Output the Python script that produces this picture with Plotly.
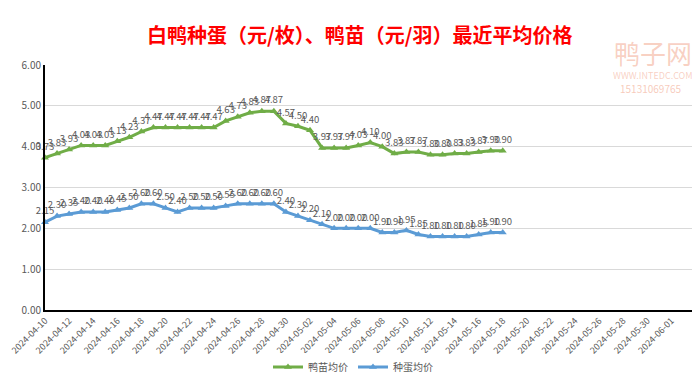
import plotly.graph_objects as go
import pandas as pd

dates = pd.date_range("2024-04-10", "2024-05-18", freq="D").strftime("%Y-%m-%d").tolist()
duckling = [3.73, 3.83, 3.93, 4.03, 4.03, 4.03, 4.13, 4.23, 4.37, 4.47,
            4.47, 4.47, 4.47, 4.47, 4.47, 4.63, 4.73, 4.83, 4.87, 4.87,
            4.57, 4.50, 4.40, 3.97, 3.97, 3.97, 4.03, 4.10, 4.00, 3.83,
            3.87, 3.87, 3.80, 3.80, 3.83, 3.83, 3.87, 3.90, 3.90]
eggs = [2.15, 2.30, 2.35, 2.40, 2.40, 2.40, 2.45, 2.50, 2.60, 2.60,
        2.50, 2.40, 2.50, 2.50, 2.50, 2.55, 2.60, 2.60, 2.60, 2.60,
        2.40, 2.30, 2.20, 2.10, 2.00, 2.00, 2.00, 2.00, 1.90, 1.90,
        1.95, 1.85, 1.80, 1.80, 1.80, 1.80, 1.85, 1.90, 1.90]
tick_dates = pd.date_range("2024-04-10", "2024-06-01", freq="2D").strftime("%Y-%m-%d").tolist()
names = ["鸭苗均价", "种蛋均价"]
colors = ["#70AD47", "#5B9BD5"]

font = "Noto Sans CJK SC, Noto Sans, sans-serif"
fig = go.Figure()
for vals, name, col in [(duckling, names[0], colors[0]), (eggs, names[1], colors[1])]:
    fig.add_trace(go.Scatter(
        x=dates, y=vals, name=name, mode="lines+markers+text",
        line=dict(color=col, width=3),
        marker=dict(symbol="triangle-up", size=7, color=col),
        text=[f"{v:.2f}" for v in vals], textposition="top center",
        textfont=dict(size=9.5, color="#595959"), cliponaxis=False,
    ))

L, T, W, H = 37, 57, 650, 245
def px(x, y):
    return (x - L) / W, 1 - (y - T) / H

annos = [
    ("<b>白鸭种蛋（元/枚）、鸭苗（元/羽）最近平均价格</b>", 351, 26, 20, "#FF0000"),
    ("鸭子网", 645, 44, 26, "rgba(240,150,120,0.45)"),
    ("WWW.INTEDC.COM", 645, 67, 9, "rgba(240,150,120,0.45)"),
    ("15131069765", 643, 80, 10, "rgba(240,150,120,0.5)"),
]
annotations = []
for txt, x, y, s, c in annos:
    ax, ay = px(x, y)
    annotations.append(dict(text=txt, x=ax, y=ay, xref="paper", yref="paper",
                            xanchor="center", yanchor="middle", showarrow=False,
                            font=dict(size=s, color=c, family=font)))

fig.update_layout(
    width=700, height=383,
    margin=dict(l=L, r=700 - L - W, t=T, b=383 - T - H, autoexpand=False),
    paper_bgcolor="white", plot_bgcolor="white",
    font=dict(family=font, color="#595959"),
    showlegend=True,
    legend=dict(orientation="h", x=345 / 700, xanchor="center", xref="container",
                y=(383 - 359) / 383, yanchor="middle", yref="container",
                font=dict(size=10, color="#595959")),
    xaxis=dict(type="date", range=["2024-04-10", "2024-06-02 23:00"],
               tickvals=tick_dates, ticktext=tick_dates,
               tickangle=-45, tickfont=dict(size=9, color="#595959"),
               showgrid=False, showline=True, linecolor="black", linewidth=2,
               ticks="", automargin=False),
    yaxis=dict(range=[0, 6], dtick=1, tickformat=".2f",
               tickfont=dict(size=10, color="#595959"),
               showgrid=True, gridcolor="#D9D9D9", zeroline=False,
               showline=True, linecolor="black", linewidth=2, ticks="",
               automargin=False),
    annotations=annotations,
)

fig.write_html("out.html")
